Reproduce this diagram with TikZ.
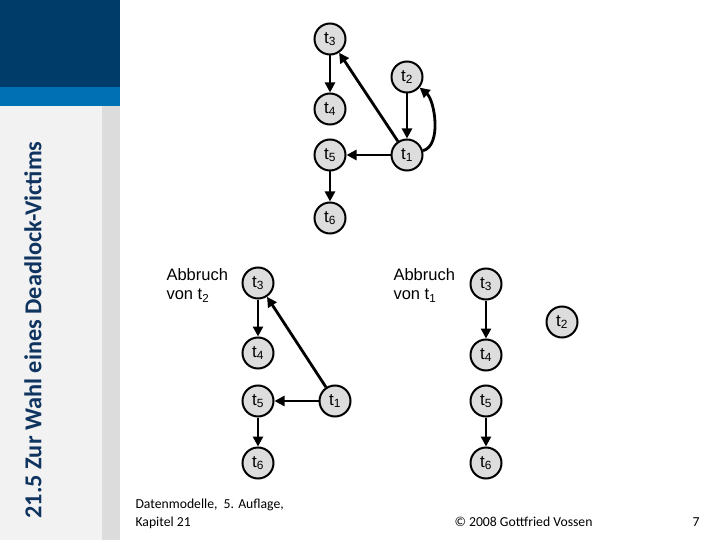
\documentclass[tikz,border=0pt]{standalone}
\usepackage{fontspec}
\setmainfont{Liberation Sans}
\newfontfamily\calibri{Carlito}
\usetikzlibrary{arrows.meta}
\definecolor{navy}{RGB}{0,60,105}
\definecolor{bandblue}{RGB}{0,112,180}
\definecolor{sidegrey}{RGB}{242,242,242}
\definecolor{stripgrey}{RGB}{220,220,220}
\definecolor{titleblue}{RGB}{16,52,96}
\definecolor{nodegrey}{RGB}{221,221,221}
\newcommand{\tx}[1]{t\textsubscript{#1}}
\tikzset{
  tnode/.style={circle,draw,fill=nodegrey,line width=2pt,minimum size=31pt,inner sep=0pt,
    font=\fontsize{17}{17}\selectfont},
  arr/.style={line width=2.8pt,-{Triangle[length=10pt,width=10pt]}},
  note/.style={align=left,anchor=north west,font=\fontsize{16.5}{19.5}\selectfont},
  foot/.style={font=\calibri\fontsize{13.7}{13.7}\selectfont}
}
\begin{document}
\begin{tikzpicture}[x=1pt,y=1pt]
  \useasboundingbox (0,0) rectangle (720,-540);
  % sidebar
  \fill[sidegrey] (0,-106) rectangle (102,-540);
  \fill[stripgrey] (102,-106) rectangle (120,-540);
  \fill[navy] (0,0) rectangle (120,-87);
  \fill[bandblue] (0,-87) rectangle (120,-106);
  \node[rotate=90,text=titleblue,font=\calibri\bfseries\fontsize{24.3}{24.3}\selectfont] (title) at (33,-330) {21.5 Zur Wahl eines Deadlock-Victims};

  % deadlock graph
  \path (330,-39) node[tnode] (a3) {\tx3};
  \path (407,-77) node[tnode] (a2) {\tx2};
  \path (330,-109) node[tnode] (a4) {\tx4};
  \path (330,-155) node[tnode] (a5) {\tx5};
  \path (407,-155) node[tnode] (a1) {\tx1};
  \path (330,-218) node[tnode] (a6) {\tx6};
  \draw[arr] (a3) -- (a4);
  \draw[arr] (a2) -- (a1);
  \draw[arr] (a1) -- (a3);
  \draw[arr] (a1) -- (a5);
  \draw[arr] (a5) -- (a6);
  \draw[arr] (a1) to[out=15,in=-40,looseness=0.8] (a2);

  % Abbruch von t2
  \path (163,-265) node[note] (ab2) {Abbruch\\von \tx2};
  \path (258,-283) node[tnode] (b3) {\tx3};
  \path (258,-353) node[tnode] (b4) {\tx4};
  \path (258,-401) node[tnode] (b5) {\tx5};
  \path (335,-401) node[tnode] (b1) {\tx1};
  \path (258,-463) node[tnode] (b6) {\tx6};
  \draw[arr] (b3) -- (b4);
  \draw[arr] (b1) -- (b3);
  \draw[arr] (b1) -- (b5);
  \draw[arr] (b5) -- (b6);

  % Abbruch von t1
  \path (390,-265) node[note] (ab1) {Abbruch\\von \tx1};
  \path (486,-284) node[tnode] (c3) {\tx3};
  \path (562,-322) node[tnode] (c2) {\tx2};
  \path (486,-355) node[tnode] (c4) {\tx4};
  \path (486,-401) node[tnode] (c5) {\tx5};
  \path (486,-463) node[tnode] (c6) {\tx6};
  \draw[arr] (c3) -- (c4);
  \draw[arr] (c5) -- (c6);

  % footer
  \path (132,-508) node[foot,anchor=base west] (src) {Datenmodelle,\ \ 5. Auflage,};
  \path (132,-526) node[foot,anchor=base west] (chap) {Kapitel 21};
  \path (451,-526) node[foot,anchor=base west] (copy) {© 2008 Gottfried Vossen};
  \path (703,-526) node[foot,anchor=base east] (page) {7};
\end{tikzpicture}
\end{document}
